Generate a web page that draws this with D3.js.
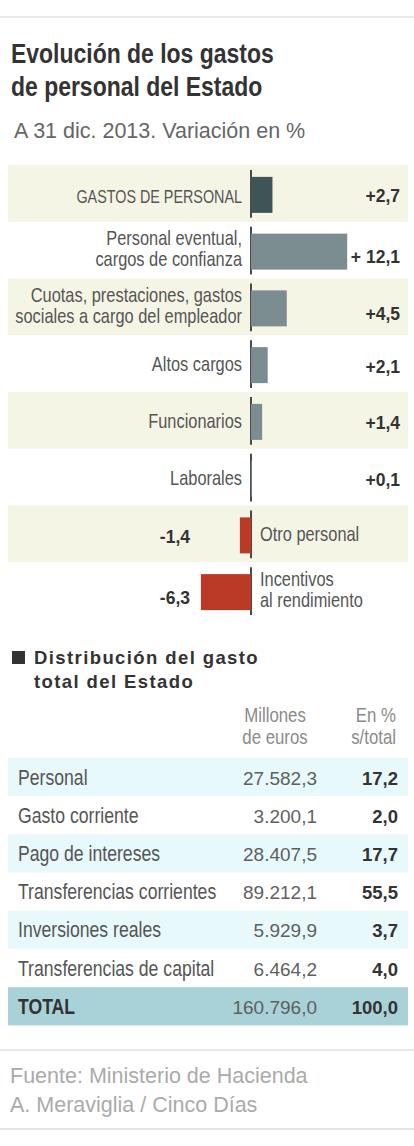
<!DOCTYPE html>
<html><head><meta charset="utf-8">
<script src="https://cdn.jsdelivr.net/npm/d3@7"></script>
<style>html,body{margin:0;padding:0;background:#fff;}svg{display:block;}</style>
</head><body>
<script>
// ---- data ----
const barCategories = [
  ["GASTOS DE PERSONAL"],
  ["Personal eventual,", "cargos de confianza"],
  ["Cuotas, prestaciones, gastos", "sociales a cargo del empleador"],
  ["Altos cargos"],
  ["Funcionarios"],
  ["Laborales"],
  ["Otro personal"],
  ["Incentivos", "al rendimiento"]
];
const barValues = [2.7, 12.1, 4.5, 2.1, 1.4, 0.1, -1.4, -6.3];
const barValueLabels = ["+2,7", "+ 12,1", "+4,5", "+2,1", "+1,4", "+0,1", "-1,4", "-6,3"];

const tableCategories = ["Personal", "Gasto corriente", "Pago de intereses", "Transferencias corrientes", "Inversiones reales", "Transferencias de capital", "TOTAL"];
const tableMillions = [27582.3, 3200.1, 28407.5, 89212.1, 5929.9, 6464.2, 160796.0];
const tablePct = [17.2, 2.0, 17.7, 55.5, 3.7, 4.0, 100.0];
const tableHeaders = [["Millones", "de euros"], ["En %", "s/total"]];

const titleLines = ["Evolución de los gastos", "de personal del Estado"];
const subtitle = "A 31 dic. 2013. Variación en %";
const section2Lines = ["Distribución del gasto", "total del Estado"];
const footerLines = ["Fuente: Ministerio de Hacienda", "A. Meraviglia / Cinco Días"];

// ---- setup ----
const W = 414, H = 1146;
const SANS = "'Liberation Sans',Arial,Helvetica,sans-serif";
const NX = 0.82; // horizontal compression to emulate a condensed face
const svg = d3.select("body").append("svg").attr("width", W).attr("height", H);

const es = d3.formatLocale({decimal: ",", thousands: ".", grouping: [3], currency: ["", "€"]});
const fmt1 = es.format(",.1f");

// condensed text helper: lines drawn at (x, y0 + k*lh)
function narrow(parent, lines, x, y0, lh, anchor, size, opts = {}) {
  const t = parent.append("text")
    .attr("transform", `translate(${x},${y0}) scale(${NX},1)`)
    .attr("text-anchor", anchor)
    .attr("font-family", SANS).attr("font-size", size)
    .attr("font-weight", opts.weight || "normal")
    .attr("fill", opts.fill || "#555");
  lines.forEach((l, k) => t.append("tspan").attr("x", 0).attr("y", k * lh).text(l));
  return t;
}

// top rule
svg.append("rect").attr("x", 0).attr("y", 16).attr("width", W).attr("height", 2).attr("fill", "#e9e9e9");

// title
narrow(svg, titleLines, 11, 63, 33.5, "start", 28, {weight: "bold", fill: "#333"});

svg.append("text").attr("x", 14).attr("y", 138)
  .attr("font-family", SANS).attr("font-size", 21.5).attr("fill", "#666").text(subtitle);

// ---- bar chart ----
const y = d3.scaleBand().domain(d3.range(barValues.length)).range([165, 619]).padding(0);
const x = d3.scaleLinear().domain([d3.min(barValues), d3.max(barValues)])
  .range([251 + d3.min(barValues) * 7.95, 251 + d3.max(barValues) * 7.95]);
const bw = y.bandwidth();

const rows = svg.append("g").selectAll("g").data(barValues).join("g")
  .attr("transform", (d, i) => `translate(0,${y(i)})`);

rows.filter((d, i) => i % 2 === 0).append("rect")
  .attr("x", 8).attr("width", 400).attr("y", 0).attr("height", bw).attr("fill", "#f5f5e6");

rows.append("line").attr("x1", x(0)).attr("x2", x(0)).attr("y1", 5).attr("y2", bw - 4)
  .attr("stroke", "#4a4a4a").attr("stroke-width", 2);

rows.append("rect")
  .attr("x", d => Math.min(x(0), x(d)))
  .attr("width", d => Math.abs(x(d) - x(0)))
  .attr("y", bw / 2 - 16.5).attr("height", 36)
  .attr("fill", (d, i) => i === 0 ? "#3e5457" : (d < 0 ? "#bb3a26" : "#7b8d91"));

rows.each(function(d, i) {
  const g = d3.select(this);
  const lines = barCategories[i];
  const neg = d < 0;
  const c = bw / 2;
  const lx = neg ? 260 : 242;
  const y0 = lines.length === 1 ? c + (i === 0 ? 9.5 : 7.5) : c - 5;
  narrow(g, lines, lx, y0, 21, neg ? "start" : "end", i === 0 ? 17.5 : 20, {fill: "#555"});
  g.append("text")
    .attr("font-family", SANS).attr("font-weight", "bold").attr("font-size", 17.5)
    .attr("fill", "#333").attr("text-anchor", "end")
    .attr("x", neg ? 190 : 400)
    .attr("y", c + (lines.length === 1 ? 9 : 13))
    .text(barValueLabels[i]);
});

// ---- section 2 ----
svg.append("rect").attr("x", 12).attr("y", 651).attr("width", 13).attr("height", 13).attr("fill", "#333");
svg.append("g").selectAll("text").data(section2Lines).join("text")
  .attr("x", 34).attr("y", (d, i) => 664 + i * 24)
  .attr("font-family", SANS).attr("font-weight", "bold").attr("font-size", 18.5)
  .attr("letter-spacing", 1.4)
  .attr("fill", "#333").text(d => d);

// table headers
const hdrX = [275, 396], hdrAnchor = ["middle", "end"];
tableHeaders.forEach((lines, j) => {
  narrow(svg, lines, hdrX[j], 722, 22, hdrAnchor[j], 20.5, {fill: "#8a8a8a"});
});

const ty = d3.scaleBand().domain(d3.range(tableCategories.length)).range([758, 1025.4]).padding(0);
const tb = ty.bandwidth();
const last = tableCategories.length - 1;
const trows = svg.append("g").selectAll("g").data(tableCategories).join("g")
  .attr("transform", (d, i) => `translate(0,${ty(i)})`);

trows.append("rect").attr("x", 8).attr("width", 400).attr("y", 0).attr("height", tb)
  .attr("fill", (d, i) => i === last ? "#a9d2d8" : (i % 2 === 0 ? "#e8f9fb" : "#ffffff"));

trows.each(function(d, i) {
  narrow(d3.select(this), [d], 18, tb / 2 + 7.5, 0, "start", 21.5,
    {weight: i === last ? "bold" : "normal", fill: i === last ? "#333" : "#555"});
});

trows.append("text").attr("x", 317).attr("y", tb / 2 + 7.5).attr("text-anchor", "end")
  .attr("font-family", SANS).attr("font-size", 19).attr("fill", "#5f5f5f")
  .text((d, i) => fmt1(tableMillions[i]));

trows.append("text").attr("x", 398).attr("y", tb / 2 + 7.5).attr("text-anchor", "end")
  .attr("font-family", SANS).attr("font-weight", "bold").attr("font-size", 18.5).attr("fill", "#333")
  .text((d, i) => fmt1(tablePct[i]));

// ---- footer ----
svg.append("rect").attr("x", 0).attr("y", 1049).attr("width", W).attr("height", 2).attr("fill", "#e6e6e6");
svg.append("rect").attr("x", 0).attr("y", 1128).attr("width", W).attr("height", 2).attr("fill", "#e6e6e6");
svg.append("g").selectAll("text").data(footerLines).join("text")
  .attr("x", 10).attr("y", (d, i) => 1083 + i * 29)
  .attr("font-family", SANS).attr("font-size", 21.5).attr("fill", "#aaa").text(d => d);
</script>
</body></html>
